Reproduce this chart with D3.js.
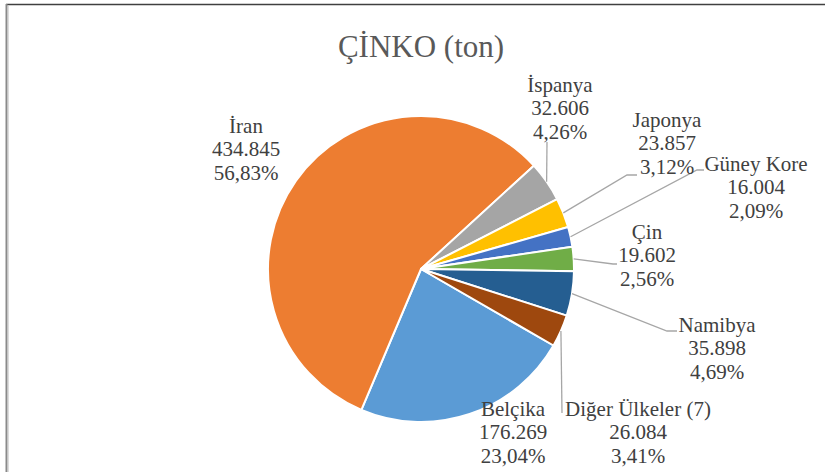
<!DOCTYPE html>
<html>
<head>
<meta charset="utf-8">
<script src="https://cdn.jsdelivr.net/npm/d3@7"></script>
<style>
  body { margin: 0; background: #fff; }
</style>
</head>
<body>
<div id="chart"></div>
<script>
// --- Data ---
const countries = ["Belçika", "İran", "İspanya", "Japonya", "Güney Kore", "Çin", "Namibya", "Diğer Ülkeler (7)"];
const tonnes = [176269, 434845, 32606, 23857, 16004, 19602, 35898, 26084];
const colors = ["#5B9BD5", "#ED7D31", "#A5A5A5", "#FFC000", "#4472C4", "#70AD47", "#255E91", "#9E480E"];
const title = "ÇİNKO (ton)";

// label layout: text centre x, first baseline y, leader elbow points (null = no leader)
const labelLayout = [
    { x: 513, y: 416, leader: null },
    { x: 246, y: 133, leader: null },
    { x: 560, y: 92,  leader: [[547, 142]] },
    { x: 667, y: 127, leader: [[627, 175], [637, 175]] },
    { x: 756, y: 171, leader: [[697, 170], [704, 170]] },
    { x: 647, y: 239, leader: [[613, 264], [617, 264]] },
    { x: 717, y: 332, leader: [[667, 331], [677, 331]] },
    { x: 638, y: 416, leader: [[562, 413]] }
];

const width = 825, height = 472;
const cx = 421, cy = 269, radius = 153;
const lineStep = 23.3;
const serif = "Times New Roman, Liberation Serif, Tinos, serif";

const trLocale = d3.formatLocale({ decimal: ",", thousands: ".", grouping: [3], currency: ["", ""] });
const fmtNum = trLocale.format(",d");
const fmtPct = trLocale.format(".2f");

const svg = d3.select("#chart").append("svg")
    .attr("width", width)
    .attr("height", height)
    .attr("font-family", serif);

// chart frame (only top and left edges visible)
svg.append("line").attr("x1", 6).attr("x2", width).attr("y1", 4.5).attr("y2", 4.5)
    .attr("stroke", "#404040").attr("stroke-width", 1.5);
svg.append("line").attr("x1", 6.5).attr("x2", 6.5).attr("y1", 4).attr("y2", height)
    .attr("stroke", "#8a8a8a").attr("stroke-width", 2);
svg.append("line").attr("x1", 8.5).attr("x2", 8.5).attr("y1", 6).attr("y2", height)
    .attr("stroke", "#dcdcdc").attr("stroke-width", 1);

svg.append("text")
    .attr("x", cx)
    .attr("y", 57)
    .attr("text-anchor", "middle")
    .attr("font-family", serif)
    .attr("font-size", 31)
    .attr("fill", "#595959")
    .text(title);

const total = d3.sum(tonnes);
const data = countries.map((c, i) => ({ name: c, value: tonnes[i], color: colors[i], layout: labelLayout[i] }));

const pie = d3.pie().value(d => d.value).sort(null)
    .startAngle(120 * Math.PI / 180)
    .endAngle(480 * Math.PI / 180);
const arc = d3.arc().innerRadius(0).outerRadius(radius);
const arcs = pie(data);

const g = svg.append("g").attr("transform", `translate(${cx},${cy})`);

g.selectAll("path")
    .data(arcs)
    .enter().append("path")
    .attr("d", arc)
    .attr("fill", d => d.data.color)
    .attr("stroke", "#fff")
    .attr("stroke-width", 2)
    .attr("stroke-linejoin", "round");

// leader lines from the arc edge at the slice middle
arcs.forEach(d => {
    const lay = d.data.layout;
    if (!lay.leader) return;
    const mid = (d.startAngle + d.endAngle) / 2;
    const start = [cx + radius * Math.sin(mid), cy - radius * Math.cos(mid)];
    svg.append("path")
        .attr("d", d3.line()([start].concat(lay.leader)))
        .attr("fill", "none")
        .attr("stroke", "#a6a6a6")
        .attr("stroke-width", 1.3);
});

// labels
arcs.forEach(d => {
    const lay = d.data.layout;
    const lines = [d.data.name, fmtNum(d.data.value), fmtPct(d.data.value / total * 100) + "%"];
    const t = svg.append("text")
        .attr("text-anchor", "middle")
        .attr("font-family", serif)
        .attr("font-size", 21)
        .attr("fill", "#404040");
    lines.forEach((s, i) => {
        t.append("tspan")
            .attr("x", lay.x)
            .attr("y", lay.y + i * lineStep)
            .text(s);
    });
});
</script>
</body>
</html>
